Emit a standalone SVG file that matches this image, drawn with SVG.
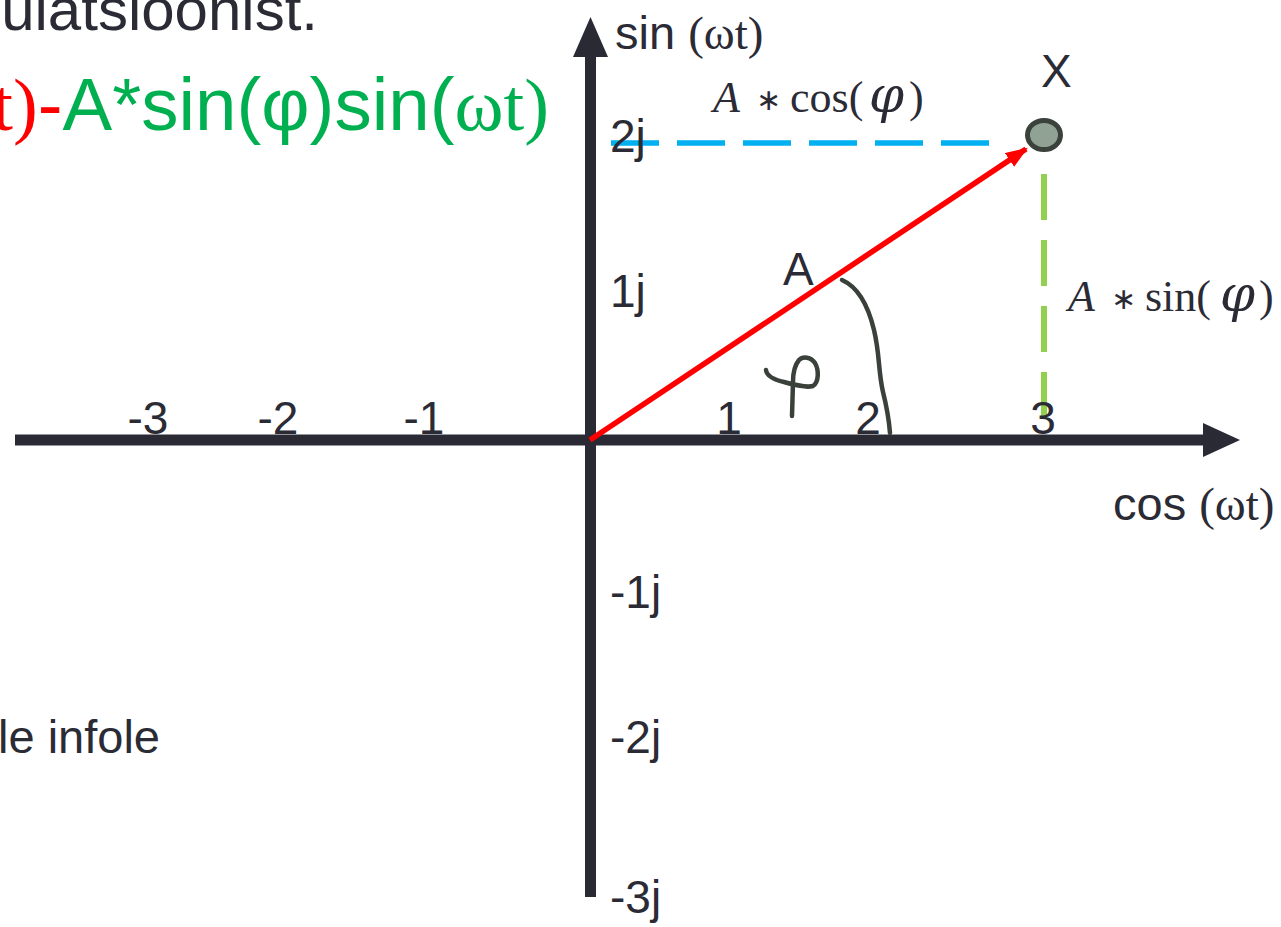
<svg xmlns="http://www.w3.org/2000/svg" width="1281" height="927" viewBox="0 0 1281 927">
<style>
.lbl{font-family:"Liberation Sans",Arial,sans-serif;font-size:46px;fill:#2b2b36}
.ser{font-family:"Liberation Serif","Times New Roman",serif}
.math{font-family:"Liberation Serif","Times New Roman",serif;font-size:44px;fill:#2b2b36}
.it{font-style:italic}
.star{font-family:"DejaVu Sans",sans-serif;font-size:30px}
.phi{font-family:"DejaVu Serif",serif;font-size:50px}
.axis{stroke:#2a2a35;stroke-width:11;fill:none}
.hand{stroke:#3a413a;stroke-width:4.5;fill:none;stroke-linecap:round;stroke-linejoin:round}
</style>
<defs>
<marker id="redhead" markerWidth="4" markerHeight="3" refX="3.6" refY="1.5" orient="auto" markerUnits="strokeWidth">
<path d="M0,0 L4,1.5 L0,3 z" fill="#ff0000"/>
</marker>
</defs>
<rect width="1281" height="927" fill="#ffffff"/>

<g id="title">
<text class="lbl" x="318" y="30" text-anchor="end" style="font-size:60px">uiatsioonist.</text>
<text class="lbl" x="549" y="130" text-anchor="end" style="font-size:74.5px"><tspan class="ser" fill="#ff0000">t)</tspan><tspan fill="#ff0000">-</tspan><tspan fill="#00b050">A*sin(φ)sin(</tspan><tspan class="ser" fill="#00b050">ωt)</tspan></text>
<text class="lbl" x="-2" y="753" style="font-size:47px">le infole</text>
</g>

<g id="connectors">
<path id="x-axis" class="axis" d="M15,440 H1206"/>
<path d="M1203,423 L1240,440 L1203,457 z" fill="#2a2a35"/>
<path id="y-axis" class="axis" d="M590.5,897 V52"/>
<path d="M573,57 L590.5,17 L608,57 z" fill="#2a2a35"/>
<path id="cos-dash" d="M611,143 H990" stroke="#00b0f0" stroke-width="5.5" stroke-dasharray="48 18" fill="none"/>
<path id="sin-dash" d="M1044,174 V418" stroke="#92d050" stroke-width="6" stroke-dasharray="46 20" fill="none"/>
<path id="vector-A" d="M590,440 L1026,149" stroke="#ff0000" stroke-width="5.5" fill="none" marker-end="url(#redhead)"/>
<path id="angle-arc" class="hand" d="M842,280 C858,287 868,305 874,330 C880,355 878,370 883,392 C888,412 889,420 890,433"/>
<path id="phi-glyph" class="hand" d="M766,370 C767,377 775,380 784,382 C795,385 806,388 813,386 C819,382 819,370 815,363 C811,357 803,356 799,360 C794,366 793,374 793,382 L792,416"/>
</g>

<g id="axis-labels">
<text class="lbl" x="615" y="49" style="font-size:47px">sin <tspan class="ser">(ωt)</tspan></text>
<text class="lbl" x="1113" y="520" style="font-size:47px">cos <tspan class="ser">(ωt)</tspan></text>
<g text-anchor="middle">
<text class="lbl" x="148" y="434">-3</text>
<text class="lbl" x="278" y="434">-2</text>
<text class="lbl" x="424" y="434">-1</text>
<text class="lbl" x="729" y="434">1</text>
<text class="lbl" x="868" y="434">2</text>
<text class="lbl" x="1043" y="434">3</text>
</g>
<text class="lbl" x="610" y="152">2j</text>
<text class="lbl" x="610" y="307">1j</text>
<text class="lbl" x="610" y="608">-1j</text>
<text class="lbl" x="610" y="753">-2j</text>
<text class="lbl" x="610" y="913">-3j</text>
</g>

<g id="point-X">
<ellipse cx="1044" cy="135" rx="16.5" ry="14.5" fill="#8fa293" stroke="#3b423b" stroke-width="5"/>
<text class="lbl" x="1041" y="87">X</text>
</g>

<g id="label-A">
<text class="lbl" x="783" y="285">A</text>
</g>

<g id="label-Acos">
<text class="math" y="112"><tspan class="it" x="713">A</tspan><tspan class="star" x="756" dy="-2">∗</tspan><tspan x="790" dy="2">cos(</tspan><tspan class="it phi" x="869">φ</tspan><tspan x="909">)</tspan></text>
</g>

<g id="label-Asin">
<text class="math" y="311"><tspan class="it" x="1068">A</tspan><tspan class="star" x="1111" dy="-2">∗</tspan><tspan x="1145" dy="2">sin(</tspan><tspan class="it phi" x="1220">φ</tspan><tspan x="1259">)</tspan></text>
</g>
</svg>
